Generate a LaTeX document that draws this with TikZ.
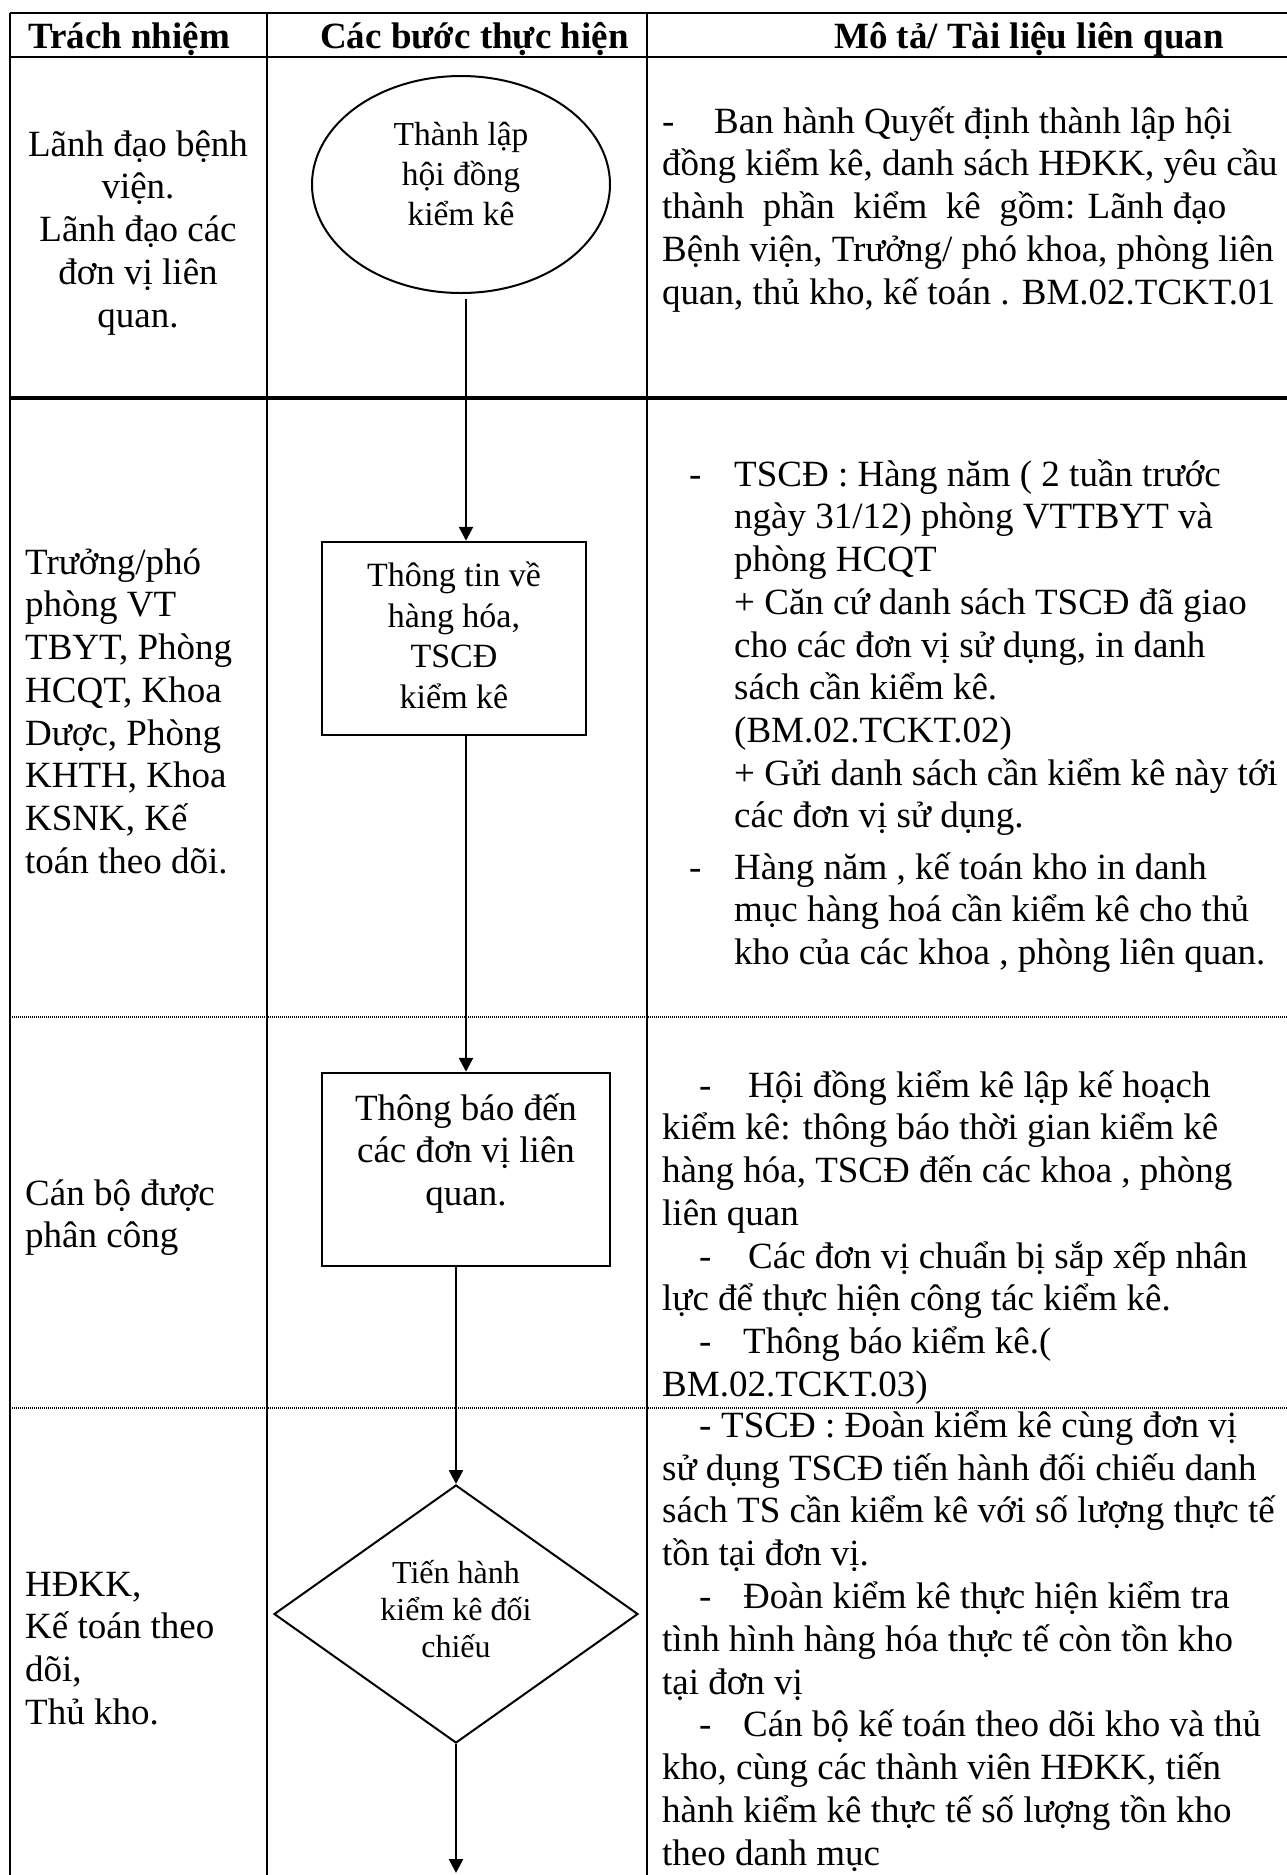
\documentclass[tikz,border=0pt]{standalone}
\usepackage{fontspec}
\setmainfont{Liberation Serif}
\usetikzlibrary{shapes.geometric,arrows.meta}
\newcommand{\hd}{\rule{0pt}{1em}}
\lineskiplimit=-100pt

\begin{document}
\begin{tikzpicture}[x=1pt,y=-1pt,>={Triangle[length=14pt,width=14pt]},
  cell/.style={inner sep=0pt,anchor=north west,align=left,font=\fontsize{37}{42.7}\selectfont},
  head/.style={inner sep=0pt,anchor=base west,font=\fontsize{37}{42.7}\selectfont\bfseries},
  tabline/.style={line width=2.5pt},
  dotline/.style={line width=1.2pt,dash pattern=on 1pt off 1pt},
  link/.style={line width=2.5pt,->}]
\useasboundingbox (0,0) rectangle (1287,1875);

% table
\draw[tabline] (10,13) -- (1287,13);
\draw[tabline] (10,57) -- (1287,57);
\draw[line width=3.5pt] (10,398) -- (1287,398);
\draw[dotline] (10,1017) -- (1287,1017);
\draw[dotline] (10,1408) -- (1287,1408);
\foreach \x in {10,267,647} \draw[tabline] (\x,13) -- (\x,1875);

% header
\node[head] (h1) at (28,48) {Trách nhiệm};
\node[head] (h2) at (320,48) {Các bước thực hiện};
\node[head] (h3) at (834,48) {Mô tả/ Tài liệu liên quan};

% responsibility column
\node[cell,anchor=north,align=center] (r1) at (138,119) {\hd Lãnh đạo bệnh\\viện.\\Lãnh đạo các\\đơn vị liên\\quan.};
\node[cell] (r2) at (25,537) {\hd Trưởng/phó\\phòng VT\\TBYT, Phòng\\HCQT, Khoa\\Dược, Phòng\\KHTH, Khoa\\KSNK, Kế\\toán theo dõi.};
\node[cell] (r3) at (25,1168) {\hd Cán bộ được\\phân công};
\node[cell] (r4) at (25,1559) {\hd HĐKK,\\Kế toán theo\\dõi,\\Thủ kho.};

% steps
\node[draw,ellipse,line width=2pt,minimum width=298pt,minimum height=217pt,inner sep=0pt,align=center,text depth=21pt,font=\fontsize{33.5}{40}\selectfont] (s1) at (461,184.5) {Thành lập\\hội đồng\\kiểm kê};
\node[draw,rectangle,line width=2.5pt,minimum width=264pt,minimum height=193pt,inner sep=0pt,align=center,text depth=7pt,font=\fontsize{34}{40.5}\selectfont] (s2) at (454,638.5) {Thông tin về\\hàng hóa,\\TSCĐ\\kiểm kê};
\node[draw,rectangle,line width=2.5pt,minimum width=288pt,minimum height=193pt,inner sep=0pt,align=center,text depth=40pt,font=\fontsize{37}{42.7}\selectfont] (s3) at (466,1169.5) {Thông báo đến\\các đơn vị liên\\quan.};
\node[draw,diamond,shape aspect=1.41,line width=2pt,minimum width=364pt,minimum height=258pt,inner sep=0pt,align=center,text depth=10pt,font=\fontsize{32}{37}\selectfont] (s4) at (456,1614) {Tiến hành\\kiểm kê đối\\chiếu};
\coordinate (stop) at (456,1873);

\draw[link] (s1.south -| s3.north) ++(0,5) -- (s2.north -| s3.north);
\draw[link] (s2.south -| s3.north) -- (s3.north);
\draw[link] (s3.south -| s4.north) -- (s4.north);
\draw[link] (s4.south) -- (stop);

% description column
\node[cell] (d1) at (662,96) {\hd\makebox[52pt][l]{-}Ban hành Quyết định thành lập hội\\
đồng kiểm kê, danh sách HĐKK, yêu cầu\\
thành\ \ phần\ \ kiểm\ \ kê\ \ gồm: Lãnh đạo\\
Bệnh viện, Trưởng/ phó khoa, phòng liên\\
quan, thủ kho, kế toán . BM.02.TCKT.01};
\node[cell] (d2) at (734,449) {\hd\llap{\makebox[45pt][l]{-}}TSCĐ : Hàng năm ( 2 tuần trước\\
ngày 31/12) phòng VTTBYT và\\
phòng HCQT\\
+ Căn cứ danh sách TSCĐ đã giao\\
cho các đơn vị sử dụng, in danh\\
sách cần kiểm kê.\\
(BM.02.TCKT.02)\\
+ Gửi danh sách cần kiểm kê này tới\\
các đơn vị sử dụng.\\[8.7pt]
\llap{\makebox[45pt][l]{-}}Hàng năm , kế toán kho in danh\\
mục hàng hoá cần kiểm kê cho thủ\\
kho của các khoa , phòng liên quan.};
\node[cell] (d3) at (662,1060) {\hd\hspace*{37pt}\makebox[49pt][l]{-}Hội đồng kiểm kê lập kế hoạch\\
kiểm kê: thông báo thời gian kiểm kê\\
hàng hóa, TSCĐ đến các khoa , phòng\\
liên quan\\
\hspace*{37pt}\makebox[49pt][l]{-}Các đơn vị chuẩn bị sắp xếp nhân\\
lực để thực hiện công tác kiểm kê.\\
\hspace*{37pt}\makebox[44pt][l]{-}Thông báo kiểm kê.(\\
BM.02.TCKT.03)};
\node[cell,font=\fontsize{37}{42.8}\selectfont] (d4) at (662,1400) {\hd\hspace*{37pt}\makebox[22pt][l]{-}TSCĐ : Đoàn kiểm kê cùng đơn vị\\
sử dụng TSCĐ tiến hành đối chiếu danh\\
sách TS cần kiểm kê với số lượng thực tế\\
tồn tại đơn vị.\\
\hspace*{37pt}\makebox[44pt][l]{-}Đoàn kiểm kê thực hiện kiểm tra\\
tình hình hàng hóa thực tế còn tồn kho\\
tại đơn vị\\
\hspace*{37pt}\makebox[44pt][l]{-}Cán bộ kế toán theo dõi kho và thủ\\
kho, cùng các thành viên HĐKK, tiến\\
hành kiểm kê thực tế số lượng tồn kho\\
theo danh mục};
\end{tikzpicture}
\end{document}
